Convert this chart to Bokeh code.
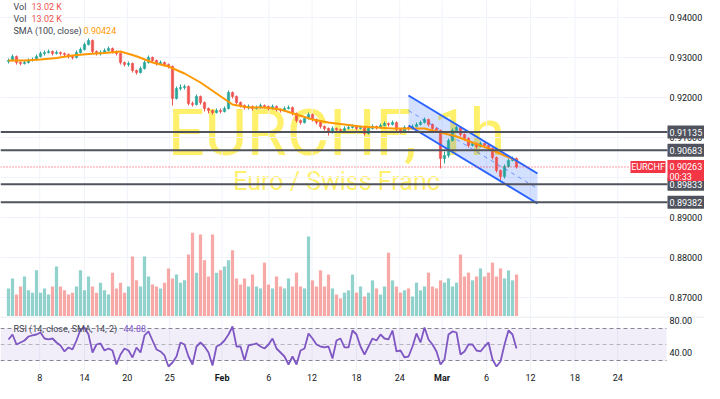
from bokeh.plotting import figure
from bokeh.models import Range1d, Label, ColumnDataSource
from bokeh.layouts import column
from bokeh.embed import file_html
from bokeh.resources import INLINE
from bokeh.core.properties import value

# ---------------- data ----------------
first_open = 0.92900
close = [
    0.92925, 0.93025, 0.92875, 0.92850, 0.92875, 0.92925, 0.92950, 0.93025, 0.93100, 0.93125,
    0.93150, 0.93100, 0.93125, 0.93100, 0.93075, 0.93025, 0.93000, 0.93125, 0.93200, 0.93325,
    0.93425, 0.93150, 0.93100, 0.93125, 0.93175, 0.93225, 0.93150, 0.93100, 0.92875, 0.92825,
    0.92850, 0.92675, 0.92625, 0.92725, 0.92875, 0.93000, 0.92925, 0.92850, 0.92875, 0.92825,
    0.92775, 0.91975, 0.92225, 0.92250, 0.92275, 0.91850, 0.91825, 0.92025, 0.91875, 0.91725,
    0.91675, 0.91625, 0.91675, 0.91650, 0.91725, 0.92125, 0.92025, 0.91875, 0.91800, 0.91750,
    0.91775, 0.91725, 0.91750, 0.91800, 0.91775, 0.91725, 0.91775, 0.91700, 0.91675, 0.91725,
    0.91750, 0.91600, 0.91425, 0.91375, 0.91475, 0.91575, 0.91450, 0.91375, 0.91275, 0.91225,
    0.91125, 0.91225, 0.91200, 0.91175, 0.91225, 0.91250, 0.91275, 0.91225, 0.91250, 0.91100,
    0.91225, 0.91275, 0.91250, 0.91300, 0.91350, 0.91325, 0.91375, 0.91200, 0.91150, 0.91250,
    0.91225, 0.91275, 0.91325, 0.91375, 0.91450, 0.91325, 0.91225, 0.91175, 0.90475, 0.90550,
    0.90925, 0.91175, 0.91250, 0.91075, 0.90975, 0.90800, 0.90850, 0.90775, 0.90850, 0.90800,
    0.90725, 0.90500, 0.90175, 0.90025, 0.90275, 0.90425, 0.90475, 0.90263]
high = [
    0.92975, 0.93075, 0.93050, 0.92900, 0.92925, 0.92975, 0.93000, 0.93075, 0.93150, 0.93175,
    0.93200, 0.93175, 0.93175, 0.93150, 0.93125, 0.93100, 0.93050, 0.93175, 0.93250, 0.93375,
    0.93475, 0.93450, 0.93175, 0.93175, 0.93225, 0.93275, 0.93250, 0.93175, 0.93125, 0.92900,
    0.92900, 0.92875, 0.92700, 0.92775, 0.92925, 0.93050, 0.93025, 0.92950, 0.92925, 0.92900,
    0.92850, 0.92800, 0.92275, 0.92325, 0.92325, 0.92300, 0.91900, 0.92075, 0.92050, 0.91900,
    0.91750, 0.91700, 0.91725, 0.91725, 0.91775, 0.92175, 0.92150, 0.92050, 0.91900, 0.91825,
    0.91825, 0.91800, 0.91800, 0.91850, 0.91825, 0.91800, 0.91825, 0.91800, 0.91725, 0.91775,
    0.91800, 0.91775, 0.91625, 0.91450, 0.91525, 0.91625, 0.91600, 0.91475, 0.91400, 0.91300,
    0.91250, 0.91275, 0.91250, 0.91225, 0.91275, 0.91300, 0.91325, 0.91300, 0.91300, 0.91275,
    0.91275, 0.91325, 0.91300, 0.91350, 0.91400, 0.91375, 0.91425, 0.91400, 0.91225, 0.91300,
    0.91275, 0.91325, 0.91375, 0.91425, 0.91500, 0.91475, 0.91350, 0.91250, 0.91200, 0.90650,
    0.90975, 0.91225, 0.91300, 0.91275, 0.91100, 0.91000, 0.90900, 0.90875, 0.90900, 0.90875,
    0.90825, 0.90750, 0.90525, 0.90200, 0.90325, 0.90475, 0.90525, 0.90500]
low = [
    0.92850, 0.92900, 0.92825, 0.92800, 0.92825, 0.92850, 0.92900, 0.92925, 0.93000, 0.93050,
    0.93100, 0.93050, 0.93075, 0.93050, 0.93025, 0.92975, 0.92950, 0.92975, 0.93100, 0.93175,
    0.93300, 0.93100, 0.93050, 0.93050, 0.93100, 0.93150, 0.93100, 0.93050, 0.92825, 0.92775,
    0.92775, 0.92625, 0.92575, 0.92600, 0.92700, 0.92850, 0.92875, 0.92800, 0.92825, 0.92775,
    0.92725, 0.91800, 0.91950, 0.92175, 0.92200, 0.91800, 0.91775, 0.91800, 0.91825, 0.91650,
    0.91600, 0.91575, 0.91600, 0.91600, 0.91625, 0.91700, 0.91975, 0.91825, 0.91750, 0.91700,
    0.91700, 0.91675, 0.91700, 0.91725, 0.91725, 0.91675, 0.91700, 0.91650, 0.91625, 0.91650,
    0.91700, 0.91550, 0.91375, 0.91325, 0.91350, 0.91450, 0.91400, 0.91325, 0.91225, 0.91175,
    0.91050, 0.91100, 0.91150, 0.91125, 0.91150, 0.91200, 0.91225, 0.91175, 0.91200, 0.91050,
    0.91075, 0.91200, 0.91200, 0.91225, 0.91275, 0.91275, 0.91300, 0.91150, 0.91100, 0.91125,
    0.91175, 0.91200, 0.91250, 0.91300, 0.91350, 0.91275, 0.91175, 0.91125, 0.90225, 0.90350,
    0.90500, 0.90900, 0.91150, 0.91025, 0.90925, 0.90750, 0.90775, 0.90725, 0.90750, 0.90750,
    0.90675, 0.90450, 0.90125, 0.89925, 0.89975, 0.90250, 0.90400, 0.90225]
volume_k = [
    8.7, 11.8, 6.8, 9.3, 12.4, 8.1, 7.4, 14.3, 7.4, 8.7,
    6.8, 9.3, 15.5, 9.3, 8.1, 6.8, 7.4, 9.3, 14.3, 8.1,
    12.4, 9.3, 7.4, 10.5, 8.1, 6.8, 13.6, 8.7, 10.5, 7.4,
    9.3, 18.6, 11.2, 9.3, 18.6, 12.4, 9.9, 9.3, 8.7, 10.5,
    14.9, 11.8, 13.0, 10.5, 11.2, 19.2, 26.0, 13.6, 25.4, 17.4,
    12.4, 25.4, 13.6, 14.3, 15.5, 17.4, 20.5, 11.8, 9.9, 11.8,
    9.3, 13.0, 9.3, 8.7, 16.7, 9.9, 8.7, 12.4, 9.3, 8.7,
    11.8, 9.3, 13.6, 9.3, 8.7, 24.8, 11.2, 9.3, 14.3, 9.3,
    13.0, 8.7, 6.8, 5.6, 7.4, 8.1, 13.0, 7.4, 9.3, 6.2,
    7.4, 11.2, 8.7, 6.8, 9.3, 19.8, 11.2, 9.3, 7.4, 8.1,
    8.7, 6.2, 10.5, 8.1, 9.3, 13.6, 9.3, 8.7, 11.2, 10.5,
    11.8, 9.3, 10.5, 19.2, 12.4, 13.6, 11.2, 12.4, 14.9, 12.4,
    13.6, 16.7, 12.4, 14.9, 11.8, 14.3, 11.2, 13.02]
rsi = [
    56.3, 62.5, 50.0, 52.5, 55.0, 60.0, 61.3, 62.5, 65.0, 57.5,
    56.3, 57.5, 52.5, 48.8, 41.3, 46.3, 43.8, 55.0, 68.8, 71.3,
    62.5, 40.0, 50.0, 51.3, 42.5, 45.0, 42.5, 25.0, 37.5, 45.0,
    42.5, 33.8, 46.3, 40.0, 61.3, 66.3, 55.0, 43.8, 41.3, 36.3,
    22.5, 27.5, 35.0, 52.5, 50.0, 35.0, 25.0, 47.5, 52.5, 47.5,
    40.0, 23.8, 47.5, 50.0, 55.0, 62.5, 72.5, 47.5, 47.5, 30.0,
    48.8, 50.0, 51.3, 47.5, 45.0, 50.0, 57.5, 45.0, 40.0, 35.0,
    25.0, 35.0, 25.0, 42.5, 45.0, 63.8, 57.5, 50.0, 47.5, 46.3,
    47.5, 32.5, 55.0, 57.5, 46.3, 46.3, 67.5, 62.5, 47.5, 37.5,
    47.5, 57.5, 55.0, 62.5, 57.5, 56.3, 67.5, 41.3, 42.5, 33.8,
    35.0, 47.5, 63.8, 52.5, 71.3, 56.3, 50.0, 41.3, 25.0, 31.3,
    62.5, 66.3, 65.0, 37.5, 41.3, 50.0, 50.0, 42.5, 41.3, 47.5,
    52.5, 31.3, 22.5, 28.8, 50.0, 67.5, 62.5, 44.88]
sma_x = list(range(0, 128, 4)) + [127]
sma = [0.92925, 0.92925, 0.92950, 0.92988, 0.93050, 0.93088, 0.93113, 0.93150, 0.93030,
       0.92875, 0.92775, 0.92600, 0.92375, 0.92100, 0.91825, 0.91750, 0.91750, 0.91700,
       0.91575, 0.91450, 0.91375, 0.91325, 0.91275, 0.91250, 0.91225, 0.91225, 0.91225,
       0.91125, 0.91025, 0.90875, 0.90725, 0.90550, 0.90424]
levels = [0.91135, 0.90683, 0.89833, 0.89382]
last_price = 0.90263
countdown = "00:33"
price_ticks = [0.87, 0.88, 0.89, 0.90, 0.91, 0.92, 0.93, 0.94]
rsi_ticks = [40, 80]
rsi_levels = [30, 50, 70]
time_tick_pos = [7.8, 19.0, 29.7, 40.3, 53.4, 65.1, 75.9, 87.0, 97.8, 108.4, 119.5, 130.5, 141.6, 152.3]
time_tick_lab = ["8", "14", "20", "25", "Feb", "6", "12", "18", "24", "Mar", "6", "12", "18", "24"]
month_labels = ["Feb", "Mar"]
chan_x = [100.0, 132.25]
chan_upper = [0.92050, 0.90100]
chan_lower = [0.91300, 0.89350]

# ---------------- layout / styles ----------------
FONT = "Roboto"
FS = "9px"
UP, DN = "#26a69a", "#ef5350"
GRID = "#f0f3fa"
TXT = "#131722"
LEG = "#434651"
LVL = "#50535e"
RED = "#f23645"
WM = "#ffeb3b"
W = 704
PX_PER_BAR = 4.0           # bar spacing (screen px)
PX_PER_PRICE = 4000.0      # px per price unit
X0 = -2.0                  # data x at left edge
X1 = X0 + W / PX_PER_BAR   # data x at right edge
XE = X0 + 666 / PX_PER_BAR  # right edge of plotting area
XL = X0 + 669 / PX_PER_BAR  # price-scale label x
XB = X0 + 667 / PX_PER_BAR  # price-scale box left
H1 = 316
PTOP = 0.94425
PBOT = PTOP - H1 / PX_PER_PRICE
px = 1.0 / PX_PER_PRICE    # one pixel in price units


def txt(fig, x, y, text, color, align="left", bold=False, size=FS):
    fig.text(x=x, y=y, text=text, text_color=color, text_align=align,
             text_baseline="middle", text_font=value(FONT), text_font_size=value(size),
             text_font_style="bold" if bold else "normal")


opens = [first_open] + close[:-1]
idx = list(range(len(close)))
cols = [UP if c >= o else DN for o, c in zip(opens, close)]
src = ColumnDataSource(dict(x=idx, o=opens, c=close, h=high, l=low,
                            top=[max(o, c) for o, c in zip(opens, close)],
                            bot=[min(o, c) for o, c in zip(opens, close)],
                            col=cols, vol=volume_k))

xr = Range1d(X0, X1)
p = figure(width=W, height=H1, x_range=xr, y_range=Range1d(PBOT, PTOP),
           output_backend="svg", toolbar_location=None,
           x_axis_location=None, y_axis_location=None,
           min_border_left=0, min_border_right=0, min_border_top=0, min_border_bottom=0)
p.outline_line_color = None
p.grid.grid_line_color = None

# grid
p.segment(x0=X0, x1=XE, y0=price_ticks, y1=price_ticks, line_color=GRID, line_width=1)
p.segment(x0=time_tick_pos, x1=time_tick_pos, y0=PBOT, y1=PTOP, line_color=GRID, line_width=1)

# watermark (screen-centred on the plotting area)
p.add_layout(Label(x=336, y=0.91125, x_units="screen", text="EURCHF, 1h", text_align="center",
                   text_baseline="alphabetic", text_font=FONT, text_font_size="65px",
                   text_color=WM, text_alpha=0.75, level="underlay"))
p.add_layout(Label(x=336, y=0.89888, x_units="screen", text="Euro / Swiss Franc",
                   text_align="center", text_baseline="alphabetic", text_font=FONT,
                   text_font_size="25px", text_color=WM, text_alpha=0.75, level="underlay"))

# volume
p.extra_y_ranges = {"vol": Range1d(0, H1 * 0.31)}
p.vbar(x="x", top="vol", width=0.8, y_range_name="vol", source=src,
       fill_color="col", line_color=None, fill_alpha=0.5)

# channel fill
chan_mid = [(a + b) / 2 for a, b in zip(chan_upper, chan_lower)]
p.patch(x=chan_x + chan_x[::-1], y=chan_upper + chan_lower[::-1],
        fill_color="#2962ff", fill_alpha=0.2, line_color=None)

# candles
p.segment(x0="x", y0="l", x1="x", y1="h", line_color="col", line_width=1, source=src)
p.vbar(x="x", top="top", bottom="bot", width=0.6, fill_color="col", line_color="col",
       line_width=0.5, source=src)

# SMA
p.line(sma_x, sma, line_color="#ff9800", line_width=2)

# channel lines
p.line(chan_x, chan_upper, line_color="#2962ff", line_width=2)
p.line(chan_x, chan_lower, line_color="#2962ff", line_width=2)
p.line(chan_x, chan_mid, line_color="#2962ff", line_width=1, line_dash="4 4", line_alpha=0.6)

# horizontal levels + current price line
p.segment(x0=X0, x1=XB, y0=levels, y1=levels, line_color=LVL, line_width=2)
tag_left = X0 + 630 / PX_PER_BAR
tag_right = X0 + 665 / PX_PER_BAR
p.segment(x0=X0, x1=tag_left, y0=last_price, y1=last_price, line_color=RED, line_width=1,
          line_dash="1 2")

# price scale labels
txt(p, XL, price_ticks, [f"{t:.5f}" for t in price_ticks], TXT)
p.quad(left=XB, right=X1, bottom=[lv - 6.5 * px for lv in levels],
       top=[lv + 6.5 * px for lv in levels], fill_color=LVL, line_color=None)
txt(p, XL, levels, [f"{lv:.5f}" for lv in levels], "white")
p.quad(left=XB, right=X1, bottom=last_price - 14 * px, top=last_price + 7 * px,
       fill_color=RED, line_color=None)
txt(p, XL, [last_price], [f"{last_price:.5f}"], "white")
txt(p, XL, [last_price - 10 * px], [countdown], "white")
p.quad(left=tag_left, right=tag_right, bottom=last_price - 6 * px, top=last_price + 6 * px,
       fill_color=RED, line_color=None)
txt(p, (tag_left + tag_right) / 2, [last_price], ["EURCHF"], "white", align="center")


# legend
def leg(fig, x, y, text, color):
    fig.add_layout(Label(x=x, y=y, x_units="screen", y_units="screen", text=text,
                         text_font=FONT, text_font_size=FS, text_color=color,
                         text_baseline="middle"))


leg(p, 13, H1 - 6, "Vol", LEG)
leg(p, 31, H1 - 6, "13.02 K", DN)
leg(p, 13, H1 - 18, "Vol", LEG)
leg(p, 31, H1 - 18, "13.02 K", DN)
leg(p, 13, H1 - 30, "SMA (100, close)", LEG)
leg(p, 83, H1 - 30, "0.90424", "#ff9800")

# ---------------- RSI pane ----------------
H2 = 67
RPX = 0.8               # px per RSI unit
RTOP = 85.0
RBOT = RTOP - H2 / RPX
RPANE_BOT = 17.5        # bottom of the RSI plotting area
RLAB = RBOT + 7.5       # time-axis label row
r = figure(width=W, height=H2, x_range=xr, y_range=Range1d(RBOT, RTOP),
           output_backend="svg", toolbar_location=None,
           x_axis_location=None, y_axis_location=None,
           min_border_left=0, min_border_right=0, min_border_top=0, min_border_bottom=0)
r.outline_line_color = None
r.grid.grid_line_color = None

r.segment(x0=time_tick_pos, x1=time_tick_pos, y0=RPANE_BOT, y1=RTOP, line_color=GRID, line_width=1)
r.quad(left=X0, right=XE, bottom=rsi_levels[0], top=rsi_levels[2], fill_color="#7e57c2",
       fill_alpha=0.1, line_color=None)
r.segment(x0=X0, x1=XE, y0=rsi_levels, y1=rsi_levels, line_color="#787b86", line_width=1,
          line_dash="4 3", line_alpha=[0.9, 0.5, 0.9])
r.segment(x0=X0, x1=X1, y0=RTOP - 0.6, y1=RTOP - 0.6, line_color="#e0e3eb", line_width=1)
r.line(idx, rsi, line_color="#7e57c2", line_width=1.8)

txt(r, XL, rsi_ticks, [f"{t:.2f}" for t in rsi_ticks], TXT)
days = [(pos, lab) for pos, lab in zip(time_tick_pos, time_tick_lab) if lab not in month_labels]
months = [(pos, lab) for pos, lab in zip(time_tick_pos, time_tick_lab) if lab in month_labels]
txt(r, [d[0] for d in days], RLAB, [d[1] for d in days], TXT, align="center")
txt(r, [m[0] for m in months], RLAB, [m[1] for m in months], TXT, align="center", bold=True)

leg(r, 13, H2 - 12, "RSI (14, close, SMA, 14, 2)", LEG)
leg(r, 123, H2 - 12, "44.88", "#7e57c2")

layout = column(p, r, spacing=0)
open("out.html", "w").write(file_html(layout, INLINE))
